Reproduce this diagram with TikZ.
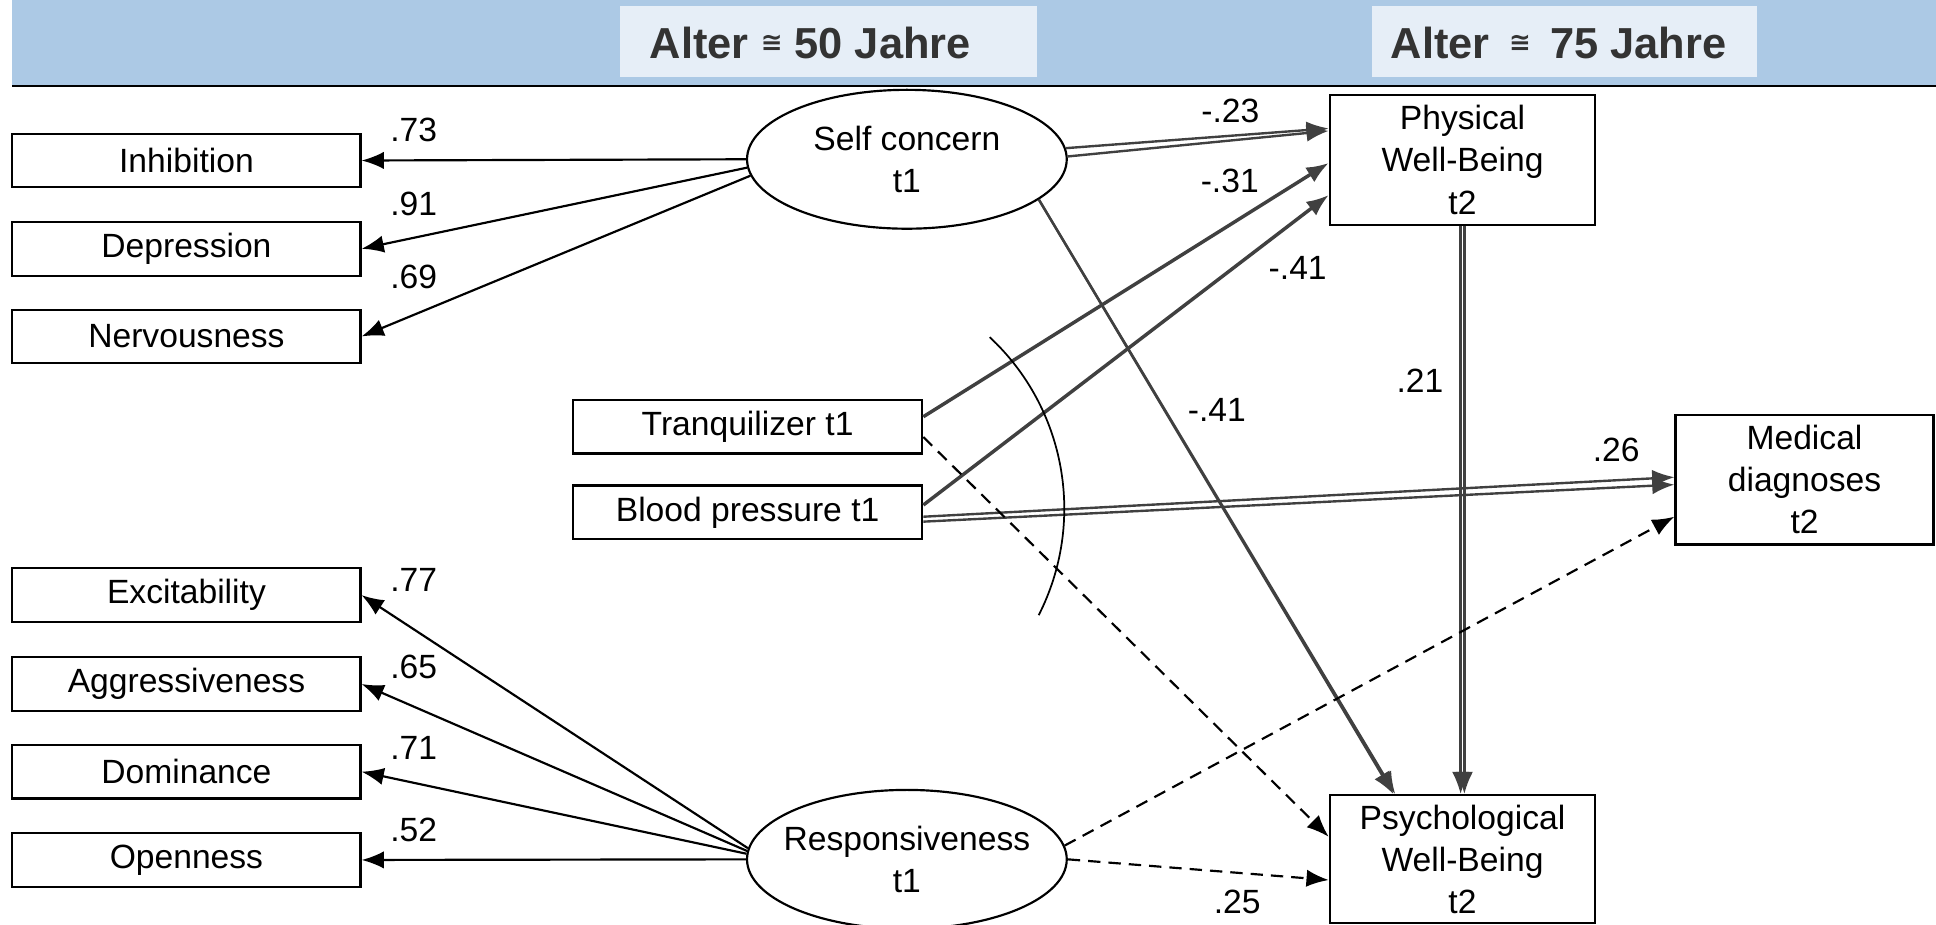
\documentclass[tikz,border=0pt]{standalone}
\usepackage{fontspec}
\setmainfont{Liberation Sans}
\newfontfamily\signfont{DejaVu Sans}
\usepackage{xcolor}
\usepackage{tikz}
\usetikzlibrary{shapes.geometric, arrows.meta}
\definecolor{BandBlue}{RGB}{172,201,229}
\definecolor{AgeBox}{RGB}{230,238,247}
\definecolor{HeadGray}{RGB}{51,51,51}
\definecolor{PathGray}{RGB}{64,64,64}
\newcommand{\agesign}{\raisebox{3.5pt}{\signfont\fontsize{12}{12}\selectfont ≅}}

\begin{document}
\begin{tikzpicture}[x=0.02cm, y=-0.02cm,
    every node/.style={font=\fontsize{15.5}{19.4}\selectfont, inner sep=0pt},
    obs/.style={draw, line width=1pt, minimum width=5.64cm, minimum height=0.87cm},
    outcome/.style={draw, line width=1pt, minimum width=4.3cm, minimum height=2.1cm, align=center},
    latent/.style={draw, ellipse, line width=1pt, minimum width=5.18cm, minimum height=2.25cm, align=center},
    agebox/.style={fill=AgeBox, minimum height=1.14cm},
    agetext/.style={anchor=west, text=HeadGray, font=\fontsize{20}{24}\selectfont\bfseries},
    loading/.style={line width=1pt, -{Latex[length=0.36cm, width=0.28cm]}},
    effect/.style={draw=PathGray, line width=1.6pt, -{Latex[length=0.36cm, width=0.28cm]}, color=PathGray},
    twin/.style={draw=PathGray, line width=1.1pt, -{Latex[length=0.36cm, width=0.28cm]}, color=PathGray},
    dasheffect/.style={line width=1pt, dash pattern=on 0.2cm off 0.13cm, -{Latex[length=0.36cm, width=0.28cm]}}]
\useasboundingbox (0,0) rectangle (1568,749);

% Header
\fill[BandBlue] (10,0) rectangle (1568,69);
\draw[line width=1.2pt] (10,69.5) -- (1568,69.5);
\node[agebox, minimum width=6.76cm] (age50box) at (671,33.5) {};
\node[agetext] (age50) at (526,35) {Alter \agesign\ 50 Jahre};
\node[agebox, minimum width=6.24cm] (age75box) at (1267,33.5) {};
\node[agetext] (age75) at (1126,35) {Alter\hspace{0.12cm} \agesign\hspace{0.12cm} 75 Jahre};

% Nodes
\node[obs] (inh) at (151,130) {Inhibition};
\node[obs] (dep) at (151,201.5) {Depression};
\node[obs] (nerv) at (151,272.5) {Nervousness};
\node[obs] (exc) at (151,482) {Excitability};
\node[obs] (agg) at (151,554) {Aggressiveness};
\node[obs] (dom) at (151,625) {Dominance};
\node[obs] (open) at (151,696.5) {Openness};

\node[latent] (self) at (734.5,129) {Self concern\\t1};
\node[latent] (resp) at (734.5,696) {\makebox[0pt]{Responsiveness}\\t1};

\node[obs, minimum width=5.66cm] (tranq) at (605.5,345.5) {Tranquilizer t1};
\node[obs, minimum width=5.66cm] (blood) at (605.5,415) {Blood pressure t1};

\node[outcome] (phys) at (1184.5,129.5) {Physical\\Well-Being\\t2};
\node[outcome, minimum height=2.07cm] (psych) at (1184.5,695.75) {Psychological\\Well-Being\\t2};
\node[outcome, minimum width=4.18cm] (med) at (1461.5,388.5) {Medical\\diagnoses\\t2};

% Coefficients
\node (c73) at (335,105) {.73};
\node (c91) at (335,165) {.91};
\node (c69) at (335,224) {.69};
\node (c77) at (335,470) {.77};
\node (c65) at (335,540) {.65};
\node (c71) at (335,606) {.71};
\node (c52) at (335,672) {.52};
\node (c23) at (996.5,90) {-.23};
\node (c31) at (996,146.5) {-.31};
\node (cphys41) at (1051,217) {-.41};
\node (cpsych41) at (985.5,332) {-.41};
\node (c21) at (1150,308) {.21};
\node (c26) at (1309,364.5) {.26};
\node (c25) at (1002,730.5) {.25};

% Arrows
\draw[loading] (self.west) -- (inh.east);
\draw[loading] (self.183) -- (dep.east);
\draw[loading] (self.186) -- (nerv.east);
\draw[loading] (resp.176.5) -- (exc.east);
\draw[loading] (resp.177.5) -- (agg.east);
\draw[loading] (resp.178.5) -- (dom.east);
\draw[loading] (resp.west) -- (open.east);

\draw[twin] (self.4) -- ([yshift=0.51cm]phys.west);
\draw[twin] (self.1) -- ([yshift=0.47cm]phys.west);
\draw[effect] ([yshift=0.16cm]tranq.east) -- ([yshift=-0.05cm]phys.west);
\draw[effect] ([yshift=0.12cm]blood.east) -- ([yshift=-0.57cm]phys.west);
\draw[twin] (self.-17.4) -- ([xshift=-1.12cm]psych.north);
\draw[twin] (self.-17.8) -- ([xshift=-1.09cm]psych.north);
\draw[twin] ([xshift=-0.03cm]phys.south) -- ([xshift=-0.03cm]psych.north);
\draw[twin] ([xshift=0.03cm]phys.south) -- ([xshift=0.03cm]psych.north);
\draw[twin] ([yshift=-0.07cm]blood.east) -- ([yshift=0.04cm]med.west);
\draw[twin] ([yshift=-0.15cm]blood.east) -- ([yshift=-0.08cm]med.west);

\draw[dasheffect] ([yshift=-0.17cm]tranq.east) -- ([yshift=0.36cm]psych.west);
\draw[dasheffect] (resp.5) -- ([yshift=-0.6cm]med.west);
\draw[dasheffect] (resp.east) -- ([yshift=-0.34cm]psych.west);

% Arc
\draw[line width=0.8pt] (672,412) ++(47:3.8cm) arc[start angle=47, end angle=-27, radius=3.8cm];
\end{tikzpicture}
\end{document}
